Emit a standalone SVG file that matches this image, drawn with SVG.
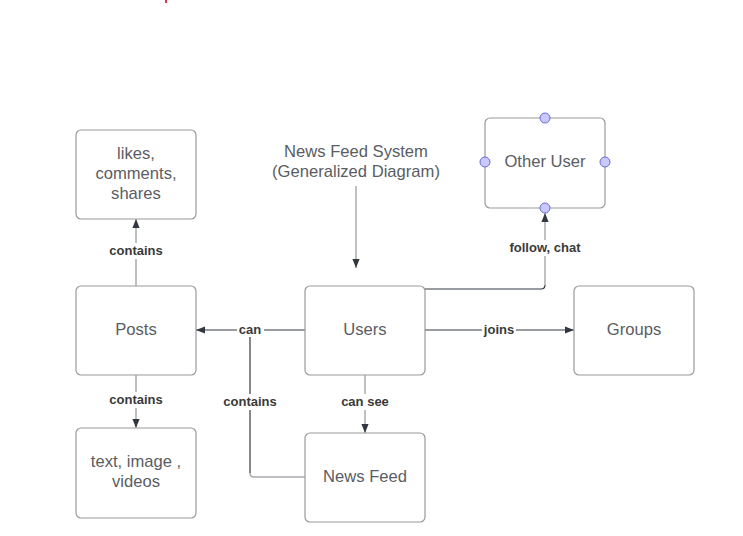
<svg xmlns="http://www.w3.org/2000/svg" width="743" height="536" viewBox="0 0 743 536">
<style>
.node rect{fill:#fff;stroke:#9a9a9a;stroke-width:1.2}
.node text,.ttl{font-family:"Liberation Sans",Arial,sans-serif;font-size:16.6px;fill:#5a5d63;text-anchor:middle}
.dk{stroke:#333840;stroke-width:1.2;fill:none}
.gr{stroke:#a9abae;stroke-width:1.5;fill:none}
.lbl{font-family:"Liberation Sans",Arial,sans-serif;font-size:13px;font-weight:bold;fill:#3a3a3a;text-anchor:middle}
.lblbg{fill:#fff}
.hdl{fill:#c9c9ff;stroke:#6a6ad8;stroke-width:1}
</style>
<defs>
<marker id="ah" viewBox="0 0 10 10" refX="10" refY="5" markerWidth="9" markerHeight="9" markerUnits="userSpaceOnUse" orient="auto">
<path d="M0,1 L10,5 L0,9 Z" fill="#333840"/>
</marker>
</defs>
<rect width="743" height="536" fill="#fff"/>
<rect x="165" y="0" width="2" height="3" fill="#e0304a"/>
<g id="title">
<text class="ttl" x="356" y="157">News Feed System</text>
<text class="ttl" x="356" y="177">(Generalized Diagram)</text>
</g>
<g id="connectors">
<path class="gr" d="M356,186 L356,268" marker-end="url(#ah)"/>
<path class="gr" d="M136,286 L136,219" marker-end="url(#ah)"/>
<rect class="lblbg" x="104" y="243" width="64" height="16"/>
<text class="lbl" x="136" y="255">contains</text>
<path class="gr" d="M136,375 L136,428" marker-end="url(#ah)"/>
<rect class="lblbg" x="104" y="392" width="64" height="16"/>
<text class="lbl" x="136" y="404">contains</text>
<path class="dk" d="M305,330 L196,330" marker-end="url(#ah)"/>
<rect class="lblbg" x="237" y="323" width="27" height="14"/>
<text class="lbl" x="250" y="334">can</text>
<path class="dk" d="M425,330 L574,330" marker-end="url(#ah)"/>
<rect class="lblbg" x="482" y="323" width="34" height="14"/>
<text class="lbl" x="499" y="334">joins</text>
<path class="gr" d="M365,375 L365,433" marker-end="url(#ah)"/>
<rect class="lblbg" x="336" y="394" width="58" height="16"/>
<text class="lbl" x="365" y="406">can see</text>
<path class="dk" d="M425,289 L541,289 Q545,289 545,285"/>
<path class="gr" d="M545,285 L545,213" marker-end="url(#ah)"/>
<rect class="lblbg" x="505" y="240" width="80" height="16"/>
<text class="lbl" x="545" y="252">follow, chat</text>
<path class="gr" d="M305,477 L254,477 Q250,477 250,473"/>
<path class="dk" d="M250,473 L250,337"/>
<rect class="lblbg" x="218" y="394" width="64" height="16"/>
<text class="lbl" x="250" y="406">contains</text>
</g>
<g id="likes" class="node">
<rect x="76" y="130" width="120" height="89" rx="5"/>
<text x="136" y="159">likes,</text>
<text x="136" y="179">comments,</text>
<text x="136" y="199">shares</text>
</g>
<g id="posts" class="node">
<rect x="76" y="286" width="120" height="89" rx="5"/>
<text x="136" y="335">Posts</text>
</g>
<g id="media" class="node">
<rect x="76" y="428" width="120" height="90" rx="5"/>
<text x="136" y="467">text, image ,</text>
<text x="136" y="487">videos</text>
</g>
<g id="users" class="node">
<rect x="305" y="286" width="120" height="89" rx="5"/>
<text x="365" y="335">Users</text>
</g>
<g id="newsfeed" class="node">
<rect x="305" y="433" width="120" height="89" rx="5"/>
<text x="365" y="482">News Feed</text>
</g>
<g id="groups" class="node">
<rect x="574" y="286" width="120" height="89" rx="5"/>
<text x="634" y="335">Groups</text>
</g>
<g id="otheruser" class="node">
<rect x="485" y="118" width="120" height="90" rx="5"/>
<text x="545" y="167">Other User</text>
<circle class="hdl" cx="545" cy="118" r="5"/>
<circle class="hdl" cx="485" cy="162" r="5"/>
<circle class="hdl" cx="605" cy="162" r="5"/>
<circle class="hdl" cx="545" cy="208" r="5"/>
</g>
</svg>
